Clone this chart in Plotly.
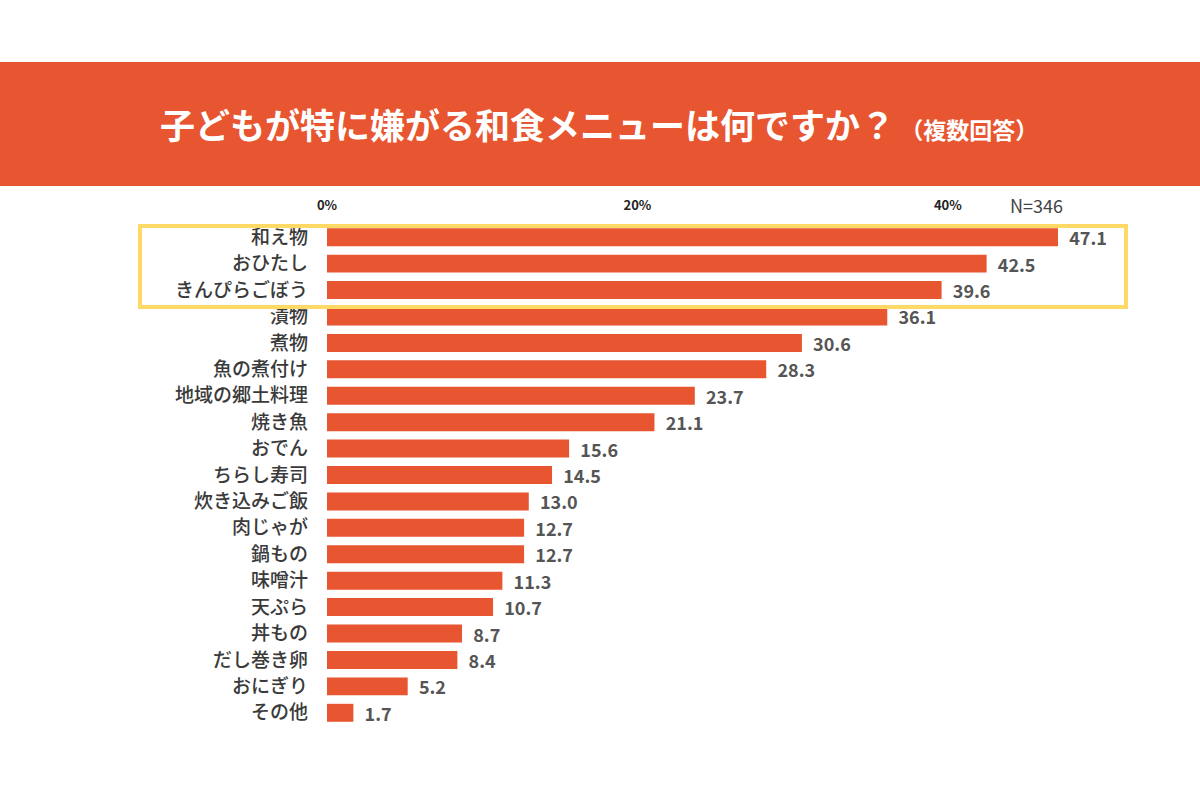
import plotly.graph_objects as go

categories = ["和え物", "おひたし", "きんぴらごぼう", "漬物", "煮物", "魚の煮付け", "地域の郷土料理",
              "焼き魚", "おでん", "ちらし寿司", "炊き込みご飯", "肉じゃが", "鍋もの", "味噌汁",
              "天ぷら", "丼もの", "だし巻き卵", "おにぎり", "その他"]
values = [47.1, 42.5, 39.6, 36.1, 30.6, 28.3, 23.7, 21.1, 15.6, 14.5, 13.0, 12.7, 12.7, 11.3,
          10.7, 8.7, 8.4, 5.2, 1.7]
tick_vals = [0, 20, 40]
tick_text = ["0%", "20%", "40%"]

BAR = "#E85531"
FONT = "Noto Sans CJK JP"

# plot area geometry (pixels) used to convert to paper coords
L, R, T, B = 327, 1127, 224, 726
W, H = R - L, B - T

def px(x):
    return (x - L) / W

def py(y):
    return (B - y) / H

fig = go.Figure()
fig.add_trace(go.Bar(
    x=values, y=categories, orientation="h",
    marker=dict(color=BAR, line=dict(width=0)),
    width=0.68,
    text=values, texttemplate="\u00a0\u00a0%{x:.1f}", textposition="outside",
    constraintext="none",
    textfont=dict(family=FONT, size=18, color="#555555", weight="bold"),
    cliponaxis=False,
    hoverinfo="skip",
))

fig.update_layout(
    width=1200, height=800,
    margin=dict(l=L, r=1200 - R, t=T, b=800 - B),
    paper_bgcolor="white", plot_bgcolor="white",
    showlegend=False,
    xaxis=dict(range=[0, W / 15.52], side="top", tickvals=tick_vals, ticktext=tick_text,
               showgrid=False, zeroline=False, showline=False, ticks="",
               ticklabelstandoff=10,
               tickfont=dict(family=FONT, size=13, color="#222222", weight="bold"),
               fixedrange=True),
    yaxis=dict(autorange="reversed", showgrid=False, zeroline=False, showline=False, ticks="",
               ticklabelstandoff=18,
               tickfont=dict(family=FONT, size=19, color="#3a3a3a", weight=500)),
    shapes=[
        dict(type="rect", xref="paper", yref="paper", x0=px(0), x1=px(1200), y0=py(186), y1=py(62),
             fillcolor=BAR, line=dict(width=0), layer="below"),
        dict(type="rect", xref="paper", yref="paper", x0=px(140), x1=px(1126), y0=py(307), y1=py(226),
             fillcolor="rgba(0,0,0,0)", line=dict(color="#FFD966", width=4)),
    ],
    annotations=[
        dict(xref="paper", yref="paper", x=px(158), y=py(124), xanchor="left", yanchor="middle",
             showarrow=False,
             text="<b>子どもが特に嫌がる和食メニューは何ですか？</b><span style='font-size:23px'><b>\u00a0（複数回答）</b></span>",
             font=dict(family=FONT, size=35, color="white")),
        dict(xref="paper", yref="paper", x=px(1036), y=py(205), xanchor="center", yanchor="middle",
             showarrow=False, text="N=346",
             font=dict(family=FONT, size=18, color="#444444")),
    ],
)

fig.write_html("out.html", config={"displayModeBar": False},
               post_script="document.body.style.margin='0';document.body.style.overflow='hidden';")
